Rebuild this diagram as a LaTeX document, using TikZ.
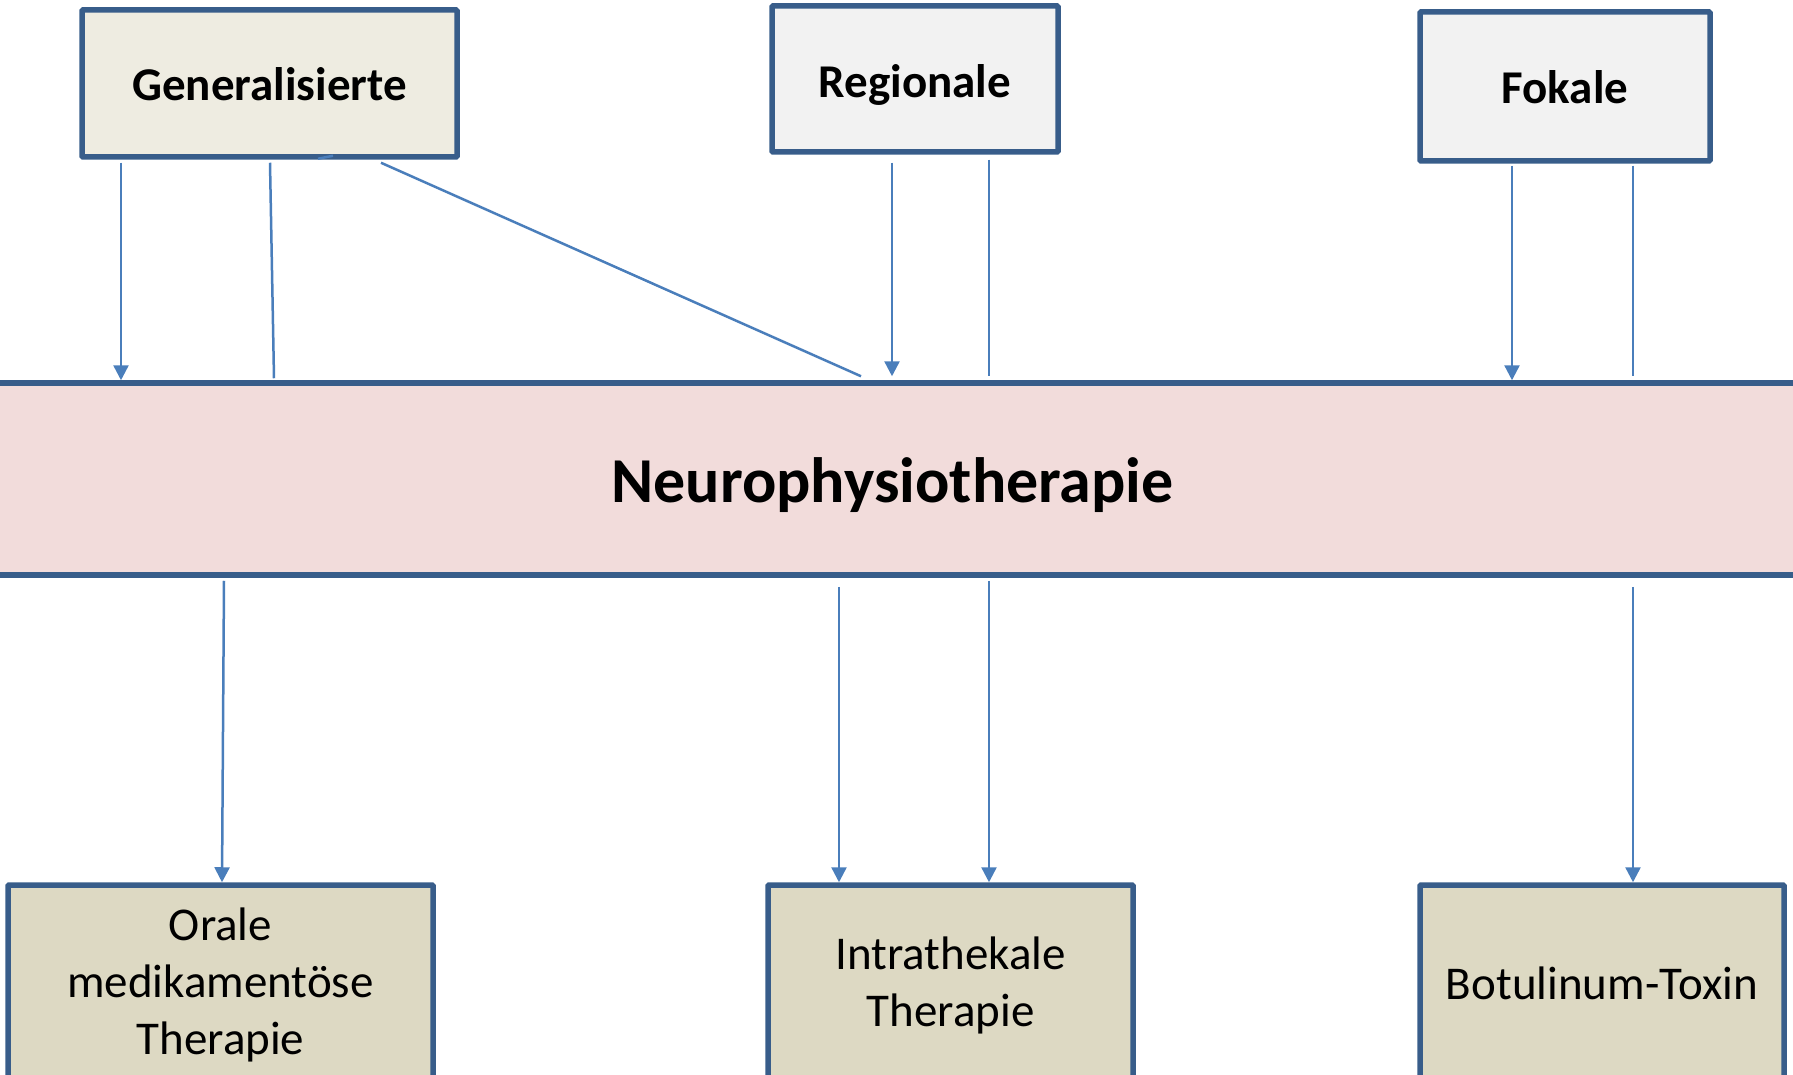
\documentclass[tikz,border=0pt]{standalone}
\usepackage{fontspec}
\setmainfont{Carlito}
\usetikzlibrary{arrows.meta}

\definecolor{boxline}{RGB}{56,93,138}
\definecolor{conline}{RGB}{74,126,187}
\definecolor{genfill}{RGB}{238,236,225}
\definecolor{grayfill}{RGB}{242,242,242}
\definecolor{therfill}{RGB}{221,217,195}
\definecolor{bandfill}{RGB}{242,220,219}

% lower a label without changing its box
\newcommand{\lowertext}[2]{\raisebox{-#1}[\height][\depth]{#2}}

\begin{document}
\begin{tikzpicture}[x=1pt,y=-1pt,
  topbox/.style={draw=boxline, line width=5.5pt, rounded corners=1pt, inner sep=0pt,
    font=\fontsize{47}{57}\selectfont\bfseries},
  therbox/.style={draw=boxline, line width=5.5pt, rounded corners=1pt, fill=therfill,
    inner sep=0pt, align=center, font=\fontsize{47}{57}\selectfont},
  conn/.style={draw=conline, line width=2.5pt},
  arr/.style={conn, -{Triangle[length=15pt,width=15pt]}}]

\useasboundingbox (0,0) rectangle (1793,1075);
\clip (0,0) rectangle (1793,1075);

% Band in the middle
\node[draw=boxline, line width=5.5pt, fill=bandfill, minimum width=1830pt, minimum height=192pt,
  font=\fontsize{64}{70}\selectfont\bfseries] (band) at (896.5,479)
  {\hspace*{-8pt}\lowertext{6pt}{Neurophysiotherapie}};

% Top boxes
\node[topbox, fill=genfill, minimum width=375pt, minimum height=147pt] (gen) at (269.5,83.5) {\lowertext{1pt}{Generalisierte}};
\node[topbox, fill=grayfill, minimum width=286pt, minimum height=146pt] (reg) at (915,79) {\lowertext{6pt}{Regionale}};
\node[topbox, fill=grayfill, minimum width=290pt, minimum height=149pt] (fok) at (1565,86.5) {\lowertext{1pt}{Fokale}};

% Bottom boxes
\node[therbox, minimum width=425pt, minimum height=200pt] (orale) at (220.5,985) {Orale\\medikamentöse\\Therapie};
\node[therbox, minimum width=365pt, minimum height=200pt] (intra) at (950.5,985) {Intrathekale\\Therapie};
\node[therbox, minimum width=364pt, minimum height=200pt] (botu) at (1602,985) {\raisebox{2pt}[\height][\depth]{Botulinum-Toxin}};

% Generalisierte to band
\draw[arr] ([xshift=-148.5pt,yshift=-3pt]gen.south) -- ([xshift=-148.5pt]gen.south |- band.north);
\draw[conn] ([xshift=0.5pt,yshift=-3pt]gen.south) -- ([xshift=4.5pt,yshift=2pt]gen.south |- band.north);
\draw[conn] ([xshift=111.5pt,yshift=-3pt]gen.south) -- ([xshift=-35.5pt,yshift=4pt]band.north);
\draw[conn] ([xshift=48.5pt,yshift=1pt]gen.south) -- ([xshift=63.5pt,yshift=4pt]gen.south);

% Regionale to band
\draw[arr] ([xshift=-23pt,yshift=-8pt]reg.south) -- ([xshift=-23pt,yshift=4pt]reg.south |- band.north);
\draw[conn] ([xshift=74pt,yshift=-5pt]reg.south) -- ([xshift=74pt,yshift=4pt]reg.south |- band.north);

% Fokale to band
\draw[arr] ([xshift=-53pt,yshift=-2pt]fok.south) -- ([xshift=-53pt]fok.south |- band.north);
\draw[conn] ([xshift=68pt,yshift=-2pt]fok.south) -- ([xshift=68pt,yshift=4pt]fok.south |- band.north);

% Band to therapies
\draw[arr] ([xshift=3.5pt,yshift=-3pt]orale.north |- band.south) -- ([xshift=1.5pt]orale.north);
\draw[arr] ([xshift=-111.5pt,yshift=-9pt]intra.north |- band.south) -- ([xshift=-111.5pt]intra.north);
\draw[arr] ([xshift=38.5pt,yshift=-3pt]intra.north |- band.south) -- ([xshift=38.5pt]intra.north);
\draw[arr] ([xshift=31pt,yshift=-9pt]botu.north |- band.south) -- ([xshift=31pt]botu.north);

\end{tikzpicture}
\end{document}
